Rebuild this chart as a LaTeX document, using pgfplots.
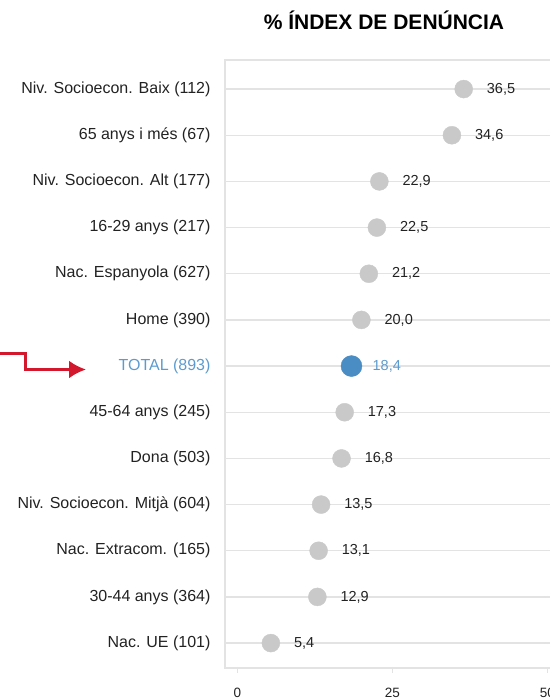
\documentclass[border=0pt]{standalone}
\usepackage{pgfplots}
\pgfplotsset{compat=1.18}
\usepackage{pgfplotstable}
\usetikzlibrary{arrows.meta}
\usepackage{fontspec}
\setmainfont{Liberation Sans}
\definecolor{dotgray}{HTML}{C9C9C9}
\definecolor{totblue}{HTML}{4A8CC4}
\definecolor{txtblue}{HTML}{5B9BD0}
\definecolor{gridgray}{HTML}{E3E3E3}
\definecolor{arrowred}{HTML}{D3182E}
\definecolor{txt}{HTML}{222222}
\pgfplotstableread{
x y lab
36.5 1 36,5
34.6 2 34,6
22.9 3 22,9
22.5 4 22,5
21.2 5 21,2
20.0 6 20,0
17.3 8 17,3
16.8 9 16,8
13.5 10 13,5
13.1 11 13,1
12.9 12 12,9
5.4 13 5,4
}\grupos
\pgfplotstableread{
x y lab
18.4 7 18,4
}\total
\begin{document}
\begin{tikzpicture}[x=1pt,y=1pt]
\path[use as bounding box] (0,0) rectangle (549,-700);
\begin{axis}[
  at={(225pt,-668pt)}, anchor=south west,
  scale only axis, width=334.8pt, height=608pt,
  xmin=-2, xmax=52, ymin=0.37, ymax=13.54, y dir=reverse,
  axis line style={draw=gridgray, line width=1.3pt},
  xtick={0,25,50},
  xticklabels={0,25,50},
  xtick pos=bottom,
  x tick style={draw=gridgray, line width=1pt},
  xtick align=outside, major tick length=5pt,
  xticklabel style={font=\fontsize{13.5}{13.5}\selectfont, text=txt, yshift=-12pt},
  ytick={1,...,13},
  y tick style={draw=none},
  yticklabels={Niv. Socioecon. Baix (112), 65 anys i més (67), Niv. Socioecon. Alt (177), 16-29 anys (217), Nac. Espanyola (627), Home (390), {\color{txtblue}TOTAL (893)}, 45-64 anys (245), Dona (503), Niv. Socioecon. Mitjà (604), Nac. Extracom. (165), 30-44 anys (364), Nac. UE (101)},
  yticklabel style={font=\fontsize{16}{16}\selectfont, text=txt, xshift=-11pt},
  ymajorgrids, grid style={draw=gridgray, line width=1.3pt},
  clip=false,
  point meta=explicit symbolic,
  nodes near coords,
  nodes near coords style={anchor=west, xshift=23pt, inner sep=0pt, font=\fontsize{14.5}{14.5}\selectfont},
]
\addplot[color=dotgray, only marks, mark=*, mark size=9pt, mark options={draw=dotgray, fill=dotgray}, nodes near coords style={text=txt}] table[x=x, y=y, meta=lab] {\grupos};
\addplot[color=totblue, only marks, mark=*, mark size=10.5pt, mark options={draw=totblue, fill=totblue}, nodes near coords style={text=txtblue, xshift=-2pt}] table[x=x, y=y, meta=lab] {\total};
\end{axis}
\node[font=\bfseries\fontsize{21}{21}\selectfont, text=black] at (384,-20) {\% ÍNDEX DE DENÚNCIA};
\draw[arrowred, line width=3pt, -{Latex[length=17pt,width=18pt]}] (-2,-353.3) -- (25.5,-353.3) -- (25.5,-369.5) -- (86,-369.5);
\end{tikzpicture}
\end{document}
